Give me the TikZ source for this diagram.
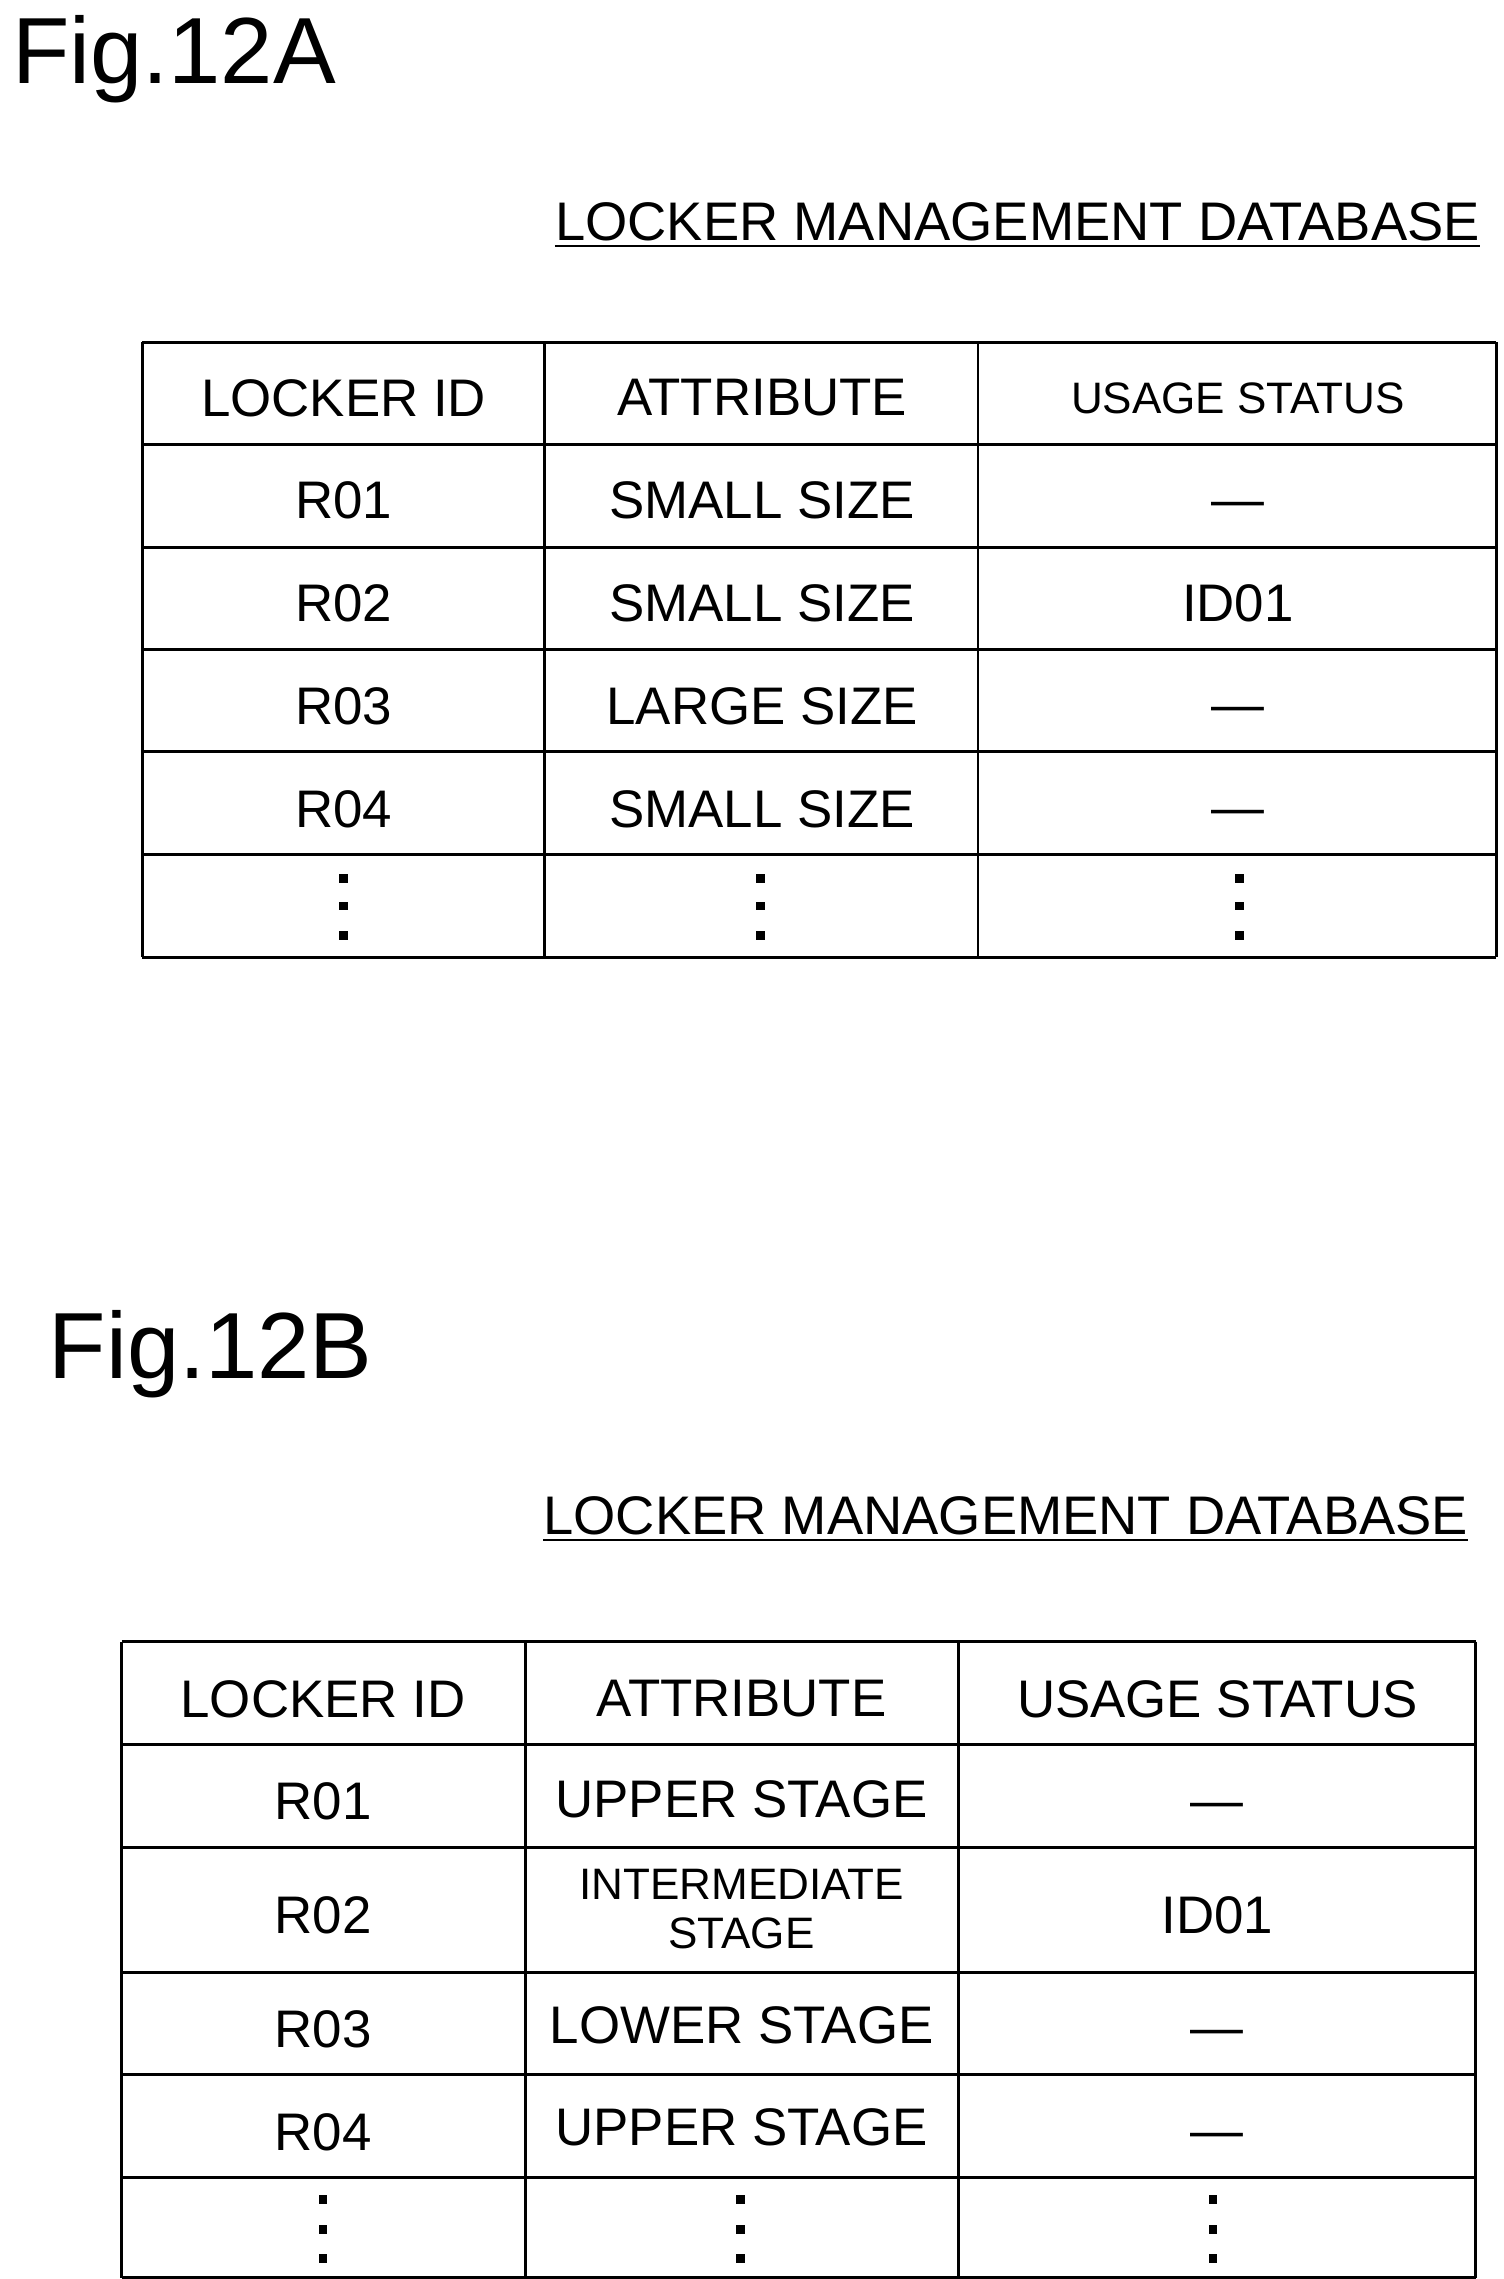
\documentclass[tikz,border=0pt]{standalone}
\usepackage{fontspec}
\setmainfont{Liberation Sans}
\begin{document}
\begin{tikzpicture}[x=1pt,y=-1pt,
  cell/.style={font=\fontsize{36}{38}\selectfont,anchor=center,inner sep=0},
  emdash/.style={font=\fontsize{36}{38}\selectfont,anchor=center,inner sep=0,yshift=-6pt},
  small/.style={font=\fontsize{30}{32}\selectfont,anchor=center,inner sep=0,align=center},
  grid/.style={line width=2pt},
  dot/.style={fill=black,minimum size=6pt,inner sep=0}]
\useasboundingbox (0,0) rectangle (1024,1552);
\fill[white] (0,0) rectangle (1024,1552);
% Fig A
\node[anchor=west,font=\fontsize{64}{66}\selectfont,inner sep=0] (figA) at (8,40) {Fig.12A};
\node[anchor=base east,font=\fontsize{37}{38}\selectfont,inner sep=0] (tA) at (1008,164) {LOCKER MANAGEMENT DATABASE};
\draw[line width=1.5pt] ([yshift=-3pt]tA.south west) -- ([yshift=-3pt]tA.south east);
\foreach \x in {97,371,666,1019} \draw[grid] (\x,233) -- (\x,652);
\foreach \y in {233,303,373,442,512,582,652} \draw[grid] (97,\y) -- (1019,\y);
\node[cell] (a11) at (234,271) {LOCKER ID};
\node[cell] (a12) at (519,271) {ATTRIBUTE};
\node[small] (a13) at (843,271) {USAGE STATUS};
\node[cell] (a21) at (234,341) {R01};
\node[cell] (a22) at (519,341) {SMALL SIZE};
\node[emdash] (a23) at (843,341) {—};
\node[cell] (a31) at (234,411) {R02};
\node[cell] (a32) at (519,411) {SMALL SIZE};
\node[cell] (a33) at (843,411) {ID01};
\node[cell] (a41) at (234,481) {R03};
\node[cell] (a42) at (519,481) {LARGE SIZE};
\node[emdash] (a43) at (843,481) {—};
\node[cell] (a51) at (234,551) {R04};
\node[cell] (a52) at (519,551) {SMALL SIZE};
\node[emdash] (a53) at (843,551) {—};
\foreach \x in {234,518,844} \foreach \y in {598,617,637} \node[dot] at (\x,\y) {};
% Fig B
\node[anchor=west,font=\fontsize{64}{66}\selectfont,inner sep=0] (figB) at (33,922) {Fig.12B};
\node[anchor=base east,font=\fontsize{37}{38}\selectfont,inner sep=0] (tB) at (1000,1045) {LOCKER MANAGEMENT DATABASE};
\draw[line width=1.5pt] ([yshift=-3pt]tB.south west) -- ([yshift=-3pt]tB.south east);
\foreach \x in {83,358,653,1005} \draw[grid] (\x,1118) -- (\x,1551);
\foreach \y in {1118,1188,1258,1343,1413,1483,1551} \draw[grid] (83,\y) -- (1005,\y);
\node[cell] (b11) at (220,1157) {LOCKER ID};
\node[cell] (b12) at (505,1157) {ATTRIBUTE};
\node[cell] (b13) at (829,1157) {USAGE STATUS};
\node[cell] (b21) at (220,1227) {R01};
\node[cell] (b22) at (505,1225) {UPPER STAGE};
\node[emdash] (b23) at (829,1227) {—};
\node[cell] (b31) at (220,1304) {R02};
\node[small,font=\fontsize{30}{33}\selectfont] (b32) at (505,1300) {INTERMEDIATE\\STAGE};
\node[cell] (b33) at (829,1304) {ID01};
\node[cell] (b41) at (220,1382) {R03};
\node[cell] (b42) at (505,1379) {LOWER STAGE};
\node[emdash] (b43) at (829,1382) {—};
\node[cell] (b51) at (220,1452) {R04};
\node[cell] (b52) at (505,1449) {UPPER STAGE};
\node[emdash] (b53) at (829,1452) {—};
\foreach \x in {220,504,826} \foreach \y in {1498,1518,1538} \node[dot] at (\x,\y) {};
\end{tikzpicture}
\end{document}
